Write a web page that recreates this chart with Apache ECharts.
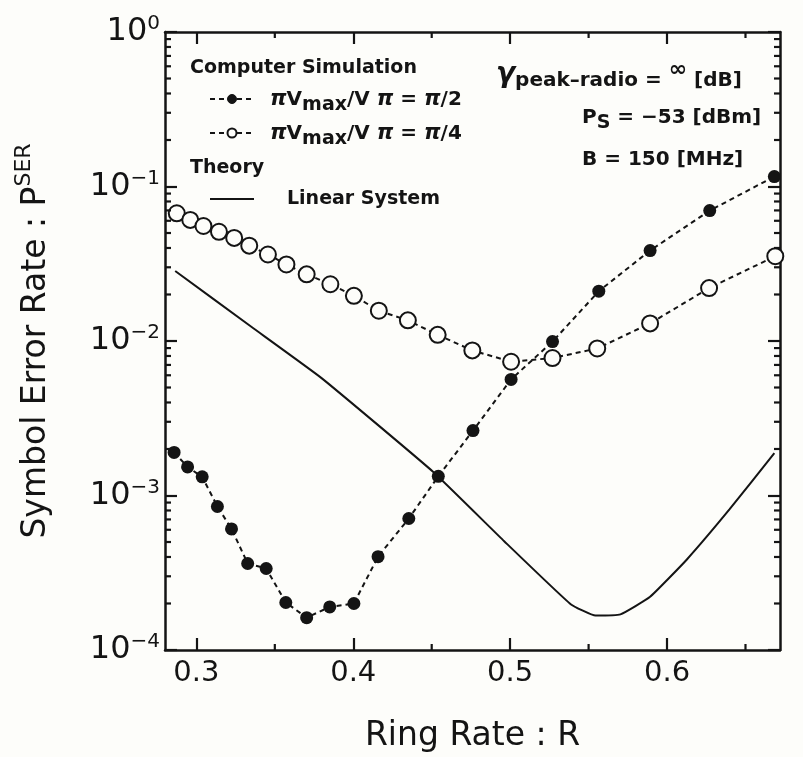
<!DOCTYPE html>
<html><head><meta charset="utf-8">
<script src="https://cdn.jsdelivr.net/npm/echarts@6/dist/echarts.min.js"></script>
<style>html,body{margin:0;padding:0;background:#fdfdfa;}#c{width:803px;height:757px;}</style>
</head><body><div id="c"></div>
<script>
// ---- data ----
// Computer simulation, pi*Vmax/Vpi = pi/2 (filled circles)
const ringRateHalfPi = [0.2858,0.2944,0.3037,0.3134,0.3224,0.3327,0.3445,0.3570,0.3703,0.3850,0.4004,0.4158,0.4354,0.4542,0.4763,0.5006,0.5270,0.5565,0.5892,0.6272,0.6684];
const serHalfPi = [0.00190,0.00153,0.00132,0.000849,0.000608,0.000363,0.000337,0.000203,0.000162,0.000190,0.000200,0.000402,0.000710,0.00133,0.00263,0.00564,0.00991,0.0210,0.0385,0.0698,0.116];
// Computer simulation, pi*Vmax/Vpi = pi/4 (open circles)
const ringRateQuarterPi = [0.2875,0.2961,0.3045,0.3144,0.3241,0.3337,0.3456,0.3574,0.3703,0.3854,0.4004,0.4163,0.4348,0.4538,0.4759,0.5006,0.5270,0.5555,0.5892,0.6268,0.6690];
const serQuarterPi = [0.0671,0.0608,0.0555,0.0509,0.0465,0.0414,0.0363,0.0313,0.0270,0.0233,0.0196,0.0157,0.0136,0.01096,0.00869,0.00734,0.00776,0.00895,0.0130,0.0220,0.0354];
// Theory, linear system
const ringRateTheory = [0.2865,0.3348,0.3800,0.4510,0.4962,0.5386,0.5544,0.5703,0.5892,0.6125,0.6399,0.6684];
const serTheory = [0.0284,0.0124,0.00573,0.00142,0.000506,0.000198,0.000167,0.000170,0.000221,0.000384,0.000815,0.00188];
// ticks
const xMajorTicks = [0.3,0.4,0.5,0.6];
const xMinorTicks = [0.35,0.45,0.55,0.65];
const yMajorTicks = [0.0001,0.001,0.01,0.1,1];
const yMinorTicks = [0.0002,0.0003,0.0004,0.0005,0.0006,0.0007,0.0008,0.0009,
  0.002,0.003,0.004,0.005,0.006,0.007,0.008,0.009,
  0.02,0.03,0.04,0.05,0.06,0.07,0.08,0.09,
  0.2,0.3,0.4,0.5,0.6,0.7,0.8,0.9];

(function () {
const INK = '#141414';
const BG = '#fdfdfa';
const FF = 'DejaVu Sans';
const X_MIN = 0.28, X_MAX = 0.672, Y_MIN = 0.0001, Y_MAX = 1;
const zip = (a,b) => a.map((v,i)=>[v,b[i]]);

const chart = echarts.init(document.getElementById('c'), null, {renderer:'canvas'});

function xAxisDef(pos, labels) {
  const ax = {
    type:'value', min:X_MIN, max:X_MAX, position:pos,
    axisLine:{show:true, onZero:false, lineStyle:{color:INK, width:2.5}},
    axisTick:{show:true, inside:true, length:12, customValues:xMajorTicks, lineStyle:{color:INK, width:2.2}},
    axisLabel:{show:false},
    splitLine:{show:false}
  };
  if (labels) {
    ax.axisLabel = {show:true, customValues:xMajorTicks, formatter:v=>v.toFixed(1), color:INK, fontFamily:FF, fontSize:29, margin:9};
    ax.name = 'Ring Rate : R';
    ax.nameLocation = 'middle';
    ax.nameGap = 70;
    ax.nameTextStyle = {fontFamily:FF, fontSize:33, color:INK};
  }
  return ax;
}
function yAxisDef(pos, labels) {
  const ax = {
    type:'log', logBase:10, min:Y_MIN, max:Y_MAX, position:pos,
    axisLine:{show:true, onZero:false, lineStyle:{color:INK, width:2.5}},
    axisTick:{show:true, inside:true, length:12, customValues:yMajorTicks, lineStyle:{color:INK, width:2.2}},
    axisLabel:{show:false},
    splitLine:{show:false}, minorTick:{show:false}
  };
  if (labels) {
    ax.axisLabel = {
      show:true, customValues:yMajorTicks, margin:5, hideOverlap:false,
      formatter: v => { const e = Math.round(Math.log10(v)); return '{b|10}{e|' + (e<0 ? '\u2212'+(-e) : e) + '}'; },
      rich:{
        b:{fontFamily:FF, fontSize:32, color:INK, lineHeight:36},
        e:{fontFamily:FF, fontSize:20, color:INK, lineHeight:22, verticalAlign:'top'}
      }
    };
    ax.name = '{t|Symbol Error Rate : P}{s|SER}';
    ax.nameLocation = 'middle';
    ax.nameGap = 90;
    ax.nameRotate = 90;
    ax.nameTextStyle = {
      rich:{
        t:{fontFamily:FF, fontSize:33, color:INK, lineHeight:40, verticalAlign:'bottom'},
        s:{fontFamily:FF, fontSize:22, color:INK, lineHeight:22, verticalAlign:'top', padding:[0,0,44,0]}
      }
    };
  }
  return ax;
}

function txt(x, y, text, rich, font) {
  return {type:'text', x:x, y:y, z:100, style:{text:text, rich:rich, font:font, fill:INK,
    align:'left', verticalAlign:'middle', textAlign:'left', textVerticalAlign:'middle'}};
}
const legendRich = {
  p:{fontFamily:FF, fontSize:21, fontWeight:'bold', fontStyle:'italic', fill:INK, lineHeight:30},
  a:{fontFamily:FF, fontSize:20, fontWeight:'bold', fill:INK, lineHeight:30},
  s:{fontFamily:FF, fontSize:19, fontWeight:'bold', fill:INK, lineHeight:30, verticalAlign:'bottom'}
};
const legendEls = [
  txt(190, 68, 'Computer Simulation', null, 'bold 19px "DejaVu Sans"'),
  {type:'line', shape:{x1:210, y1:99, x2:254, y2:99}, style:{stroke:INK, lineWidth:2, lineDash:[5,4]}, z:100},
  {type:'circle', shape:{cx:232, cy:99, r:4.5}, style:{fill:INK, stroke:INK, lineWidth:1}, z:101},
  txt(270, 100, '{p|\u03c0}{a|V}{s|max}{a|/V }{p|\u03c0}{a| = }{p|\u03c0}{a|/2}', legendRich),
  {type:'line', shape:{x1:210, y1:133, x2:254, y2:133}, style:{stroke:INK, lineWidth:2, lineDash:[5,4]}, z:100},
  {type:'circle', shape:{cx:232, cy:133, r:4.5}, style:{fill:BG, stroke:INK, lineWidth:2}, z:101},
  txt(270, 134, '{p|\u03c0}{a|V}{s|max}{a|/V }{p|\u03c0}{a| = }{p|\u03c0}{a|/4}', legendRich),
  txt(190, 168, 'Theory', null, 'bold 19px "DejaVu Sans"'),
  {type:'line', shape:{x1:210, y1:199, x2:254, y2:199}, style:{stroke:INK, lineWidth:2}, z:100},
  txt(287, 199, 'Linear System', null, 'bold 19px "DejaVu Sans"'),
  txt(496, 75, '{g|\u03b3}{a|peak\u2013radio = }{i|\u221e}{a| [dB]}', {
    g:{fontFamily:FF, fontSize:28, fontWeight:'bold', fontStyle:'italic', fill:INK, lineHeight:32},
    a:{fontFamily:FF, fontSize:20, fontWeight:'bold', fill:INK, lineHeight:32, verticalAlign:'bottom'},
    i:{fontFamily:FF, fontSize:22, fontWeight:'bold', fill:INK, lineHeight:32, verticalAlign:'top'}
  }),
  txt(582, 118, '{a|P}{s|S}{a| = \u221253 [dBm]}', {
    a:{fontFamily:FF, fontSize:20, fontWeight:'bold', fill:INK, lineHeight:30},
    s:{fontFamily:FF, fontSize:19, fontWeight:'bold', fill:INK, lineHeight:30, verticalAlign:'bottom'}
  }),
  txt(582, 160, 'B = 150 [MHz]', null, 'bold 20px "DejaVu Sans"')
];

// inward minor tick marks on all four sides, drawn through the axes' own scales
function tickSeries(vals, len, isX) {
  return {
    type:'custom', coordinateSystem:'cartesian2d', xAxisIndex:0, yAxisIndex:0,
    silent:true, clip:false, z:6,
    data: vals.map(v => isX ? [v, Y_MIN] : [X_MIN, v]),
    renderItem: function (params, api) {
      const p = api.coord([api.value(0), api.value(1)]);
      const pTop = api.coord([X_MIN, Y_MAX]);
      const pBR = api.coord([X_MAX, Y_MIN]);
      const st = {stroke:INK, lineWidth:2.2};
      if (isX) {
        const b = pBR[1], t = pTop[1];
        return {type:'group', children:[
          {type:'line', shape:{x1:p[0], y1:b, x2:p[0], y2:b-len}, style:st},
          {type:'line', shape:{x1:p[0], y1:t, x2:p[0], y2:t+len}, style:st}
        ]};
      }
      const l = pTop[0], r = pBR[0];
      return {type:'group', children:[
        {type:'line', shape:{x1:l, y1:p[1], x2:l+len, y2:p[1]}, style:st},
        {type:'line', shape:{x1:r, y1:p[1], x2:r-len, y2:p[1]}, style:st}
      ]};
    }
  };
}

const option = {
  backgroundColor:BG,
  animation:false,
  grid:{left:165, top:32, width:615, height:618, containLabel:false, outerBoundsMode:'none'},
  xAxis:[xAxisDef('bottom', true), xAxisDef('top', false)],
  yAxis:[yAxisDef('left', true), yAxisDef('right', false)],
  series:[
    tickSeries(xMinorTicks, 6, true), tickSeries(yMinorTicks, 6, false),
    {type:'line', name:'Linear System', data:zip(ringRateTheory, serTheory), showSymbol:false, symbol:'none',
     smooth:0.12, lineStyle:{color:INK, width:2}, z:2},
    {type:'line', name:'pi/4', data:zip(ringRateQuarterPi, serQuarterPi), symbol:'circle', symbolSize:16,
     lineStyle:{color:INK, width:2, type:[5,4]}, itemStyle:{color:BG, borderColor:INK, borderWidth:2}, z:3},
    {type:'line', name:'pi/2', data:zip(ringRateHalfPi, serHalfPi), symbol:'circle', symbolSize:13,
     lineStyle:{color:INK, width:2, type:[5,4]}, itemStyle:{color:INK, borderColor:INK, borderWidth:0}, z:4}
  ],
  graphic:legendEls
};
chart.setOption(option);
})();
</script>
</body></html>
